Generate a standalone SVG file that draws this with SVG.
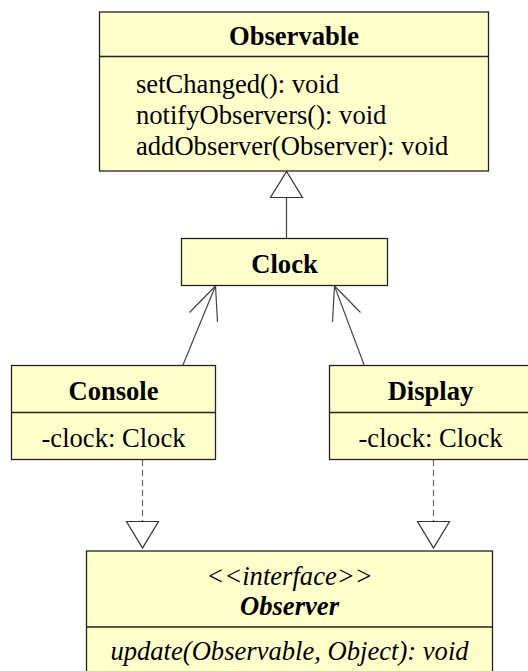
<svg xmlns="http://www.w3.org/2000/svg" width="528" height="671" viewBox="0 0 528 671">
<style>
.box{fill:#ffffcc;stroke:#222;stroke-width:1.3}
.div{stroke:#222;stroke-width:1.3}
.t{font-family:"Liberation Serif","Times New Roman",serif;font-size:26.6px;fill:#000}
.b{font-weight:bold}
.i{font-style:italic}
.c{text-anchor:middle}
.ln{stroke:#444;stroke-width:1.2;fill:none}
.dash{stroke:#666;stroke-width:1.2;fill:none;stroke-dasharray:6 4}
.tri{fill:#fff;stroke:#333;stroke-width:1.2}
</style>
<rect width="528" height="671" fill="#fff"/>
<g id="connectors">
  <line class="ln" x1="286.5" y1="197" x2="286.5" y2="238"/>
  <polygon class="tri" points="286.5,171.5 270.5,197.5 302.5,197.5"/>
  <line class="ln" x1="182.5" y1="366" x2="215.5" y2="286"/>
  <polyline class="ln" points="189.5,312.5 215.5,286 217.5,322"/>
  <line class="ln" x1="364.5" y1="366" x2="334.5" y2="286"/>
  <polyline class="ln" points="360.5,312.5 334.5,286 332.5,322"/>
  <line class="dash" x1="142.5" y1="460" x2="142.5" y2="521.5"/>
  <polygon class="tri" points="126.5,521.5 158.5,521.5 142.5,548"/>
  <line class="dash" x1="433.5" y1="460" x2="433.5" y2="521.5"/>
  <polygon class="tri" points="417.5,521.5 449.5,521.5 433.5,548"/>
</g>
<g id="observable">
  <rect class="box" x="99.5" y="12" width="389" height="159"/>
  <line class="div" x1="99.5" y1="56.5" x2="488.5" y2="56.5"/>
  <text class="t b c" x="294" y="45">Observable</text>
  <text class="t" x="136" y="93">setChanged(): void</text>
  <text class="t" x="136" y="124">notifyObservers(): void</text>
  <text class="t" x="136" y="155">addObserver(Observer): void</text>
</g>
<g id="clock">
  <rect class="box" x="181.5" y="238.5" width="206" height="47"/>
  <text class="t b c" x="284.5" y="273">Clock</text>
</g>
<g id="console">
  <rect class="box" x="11.5" y="365.5" width="204" height="94"/>
  <line class="div" x1="11.5" y1="412.5" x2="215.5" y2="412.5"/>
  <text class="t b c" x="113.5" y="400">Console</text>
  <text class="t c" x="113.5" y="447">-clock: Clock</text>
</g>
<g id="display">
  <rect class="box" x="329.5" y="365.5" width="202" height="94"/>
  <line class="div" x1="329.5" y1="412.5" x2="531.5" y2="412.5"/>
  <text class="t b c" x="430.5" y="400">Display</text>
  <text class="t c" x="430.5" y="447">-clock: Clock</text>
</g>
<g id="observer">
  <rect class="box" x="86.5" y="551" width="406" height="125"/>
  <line class="div" x1="86.5" y1="627" x2="492.5" y2="627"/>
  <text class="t i c" x="289.5" y="585">&lt;&lt;interface&gt;&gt;</text>
  <text class="t b i c" x="289.5" y="615">Observer</text>
  <text class="t i c" x="289.5" y="660">update(Observable, Object): void</text>
</g>
</svg>
